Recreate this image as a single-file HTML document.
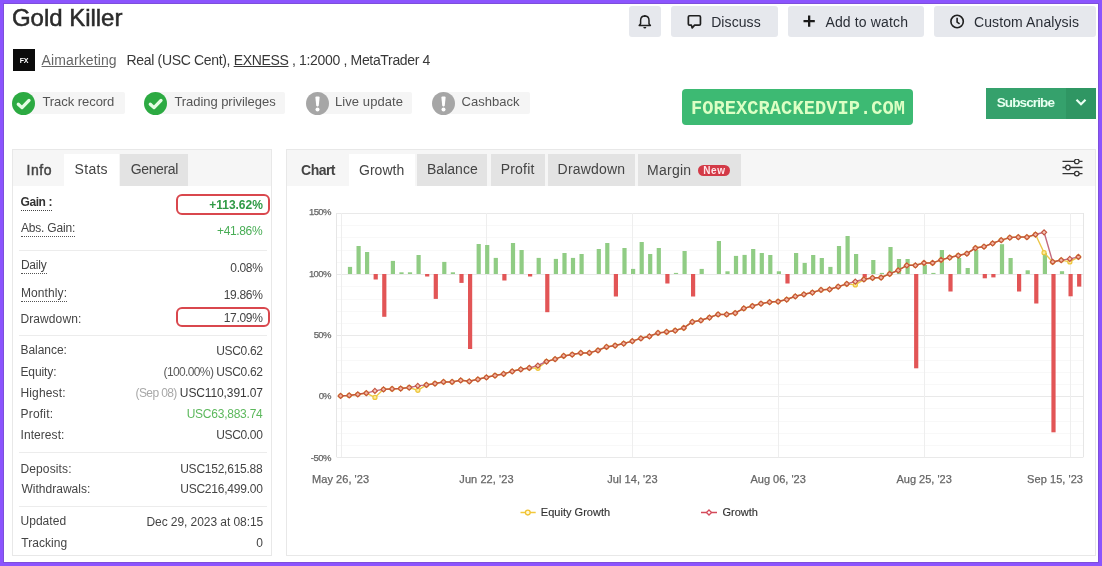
<!DOCTYPE html>
<html><head><meta charset="utf-8">
<style>
*{box-sizing:border-box;margin:0;padding:0}
html,body{width:1102px;height:566px;overflow:hidden;background:#8b54fe}
body{position:relative;font-family:"Liberation Sans",Arial,sans-serif;color:#333}
.frame{position:absolute;left:4px;top:4px;width:1094px;height:558px;background:#fff;box-shadow:0 0 0 1px #7d4fdb}
.tx{position:absolute;white-space:nowrap;font-family:"Liberation Sans",Arial,sans-serif}
.tx u{text-underline-offset:1px}
.b{position:absolute}
.btn{position:absolute;top:6px;height:31px;background:#e6e8ed;border-radius:3px}
.btn svg{position:absolute}
.badge{position:absolute;top:92px;height:22px;background:#f5f5f5;border-radius:2px}
.ic{position:absolute;top:91.5px;width:23px;height:23px;border-radius:50%}
.ic.ok{background:#2caa42}
.ic.wa{background:#a6a6a6}
.panel{position:absolute;border:1px solid #e8e8e8;background:#fff}
.tabs{position:absolute;left:0;top:0;right:0;height:36px;background:#f6f6f6}
.tab{position:absolute;top:4px;height:32px}
.tab.on{background:#fff}
.tab.g{background:#e3e3e3}
.sep{position:absolute;height:1px;background:#ececec}
.redbox{position:absolute;border:2px solid #d9474d;border-radius:6px}
</style></head><body>
<div class="frame"></div>

<div class="btn" style="left:629px;width:32px">
<svg style="left:0;top:0" width="32" height="31" viewBox="0 0 32 31"><path d="M15.8 10.1C12.9 10.1 11.6 12.2 11.6 14.6V17.7L10.2 19.4H21.4L20 17.7V14.6C20 12.2 18.7 10.1 15.8 10.1Z" fill="none" stroke="#1f1f1f" stroke-width="1.5" stroke-linejoin="round"/><circle cx="15.8" cy="9.9" r="1" fill="#1f1f1f"/><path d="M14.3 21.1a1.5 1.5 0 0 0 3 0z" fill="#1f1f1f"/></svg>
</div>
<div class="btn" style="left:671px;width:107px">
<svg style="left:0;top:0" width="40" height="31" viewBox="0 0 40 31"><path d="M18.6 9.75H28.2Q29.45 9.75 29.45 11V17.9Q29.45 19.15 28.2 19.15H23.6L21.2 21.9L20.4 19.15H18.6Q17.35 19.15 17.35 17.9V11Q17.35 9.75 18.6 9.75Z" fill="none" stroke="#1f1f1f" stroke-width="1.7" stroke-linejoin="round"/></svg>
</div>
<div class="btn" style="left:788px;width:136px">
<svg style="left:0;top:0" width="40" height="31" viewBox="0 0 40 31"><path d="M21.15 9.6V20.8M15.5 15.2H26.8" stroke="#1a1a1a" stroke-width="2.3"/></svg>
</div>
<div class="btn" style="left:934px;width:162px">
<svg style="left:0;top:0" width="40" height="31" viewBox="0 0 40 31"><circle cx="23.1" cy="15.5" r="6.2" fill="none" stroke="#1f1f1f" stroke-width="1.6"/><path d="M23.1 11.8V16.1l2.5 1.7" fill="none" stroke="#1f1f1f" stroke-width="1.6"/></svg>
</div>

<div class="b" style="left:13px;top:49px;width:22px;height:22px;background:#0b0b0b;color:#fff;font-size:7px;font-weight:bold;text-align:center;line-height:24px;letter-spacing:-0.3px">FX</div>

<div class="badge" style="left:24px;width:101px"></div>
<div class="ic ok" style="left:12px"><svg width="23" height="23" viewBox="0 0 23 23"><path d="M6.3 12.2L10 15.6L17 8.4" fill="none" stroke="#e4fde4" stroke-width="3.3" stroke-linecap="round" stroke-linejoin="round"/></svg></div>
<div class="badge" style="left:156px;width:129px"></div>
<div class="ic ok" style="left:144px"><svg width="23" height="23" viewBox="0 0 23 23"><path d="M6.3 12.2L10 15.6L17 8.4" fill="none" stroke="#e4fde4" stroke-width="3.3" stroke-linecap="round" stroke-linejoin="round"/></svg></div>
<div class="badge" style="left:318px;width:94px"></div>
<div class="ic wa" style="left:306px"><svg width="23" height="23" viewBox="0 0 23 23"><path d="M9.4 5.6Q9.4 4.6 10.4 4.6H12.6Q13.6 4.6 13.6 5.6L12.8 13.6Q12.7 14.4 11.9 14.4H11.1Q10.3 14.4 10.2 13.6Z" fill="#fff"/><circle cx="11.5" cy="17.4" r="2" fill="#fff"/></svg></div>
<div class="badge" style="left:444px;width:86px"></div>
<div class="ic wa" style="left:432px"><svg width="23" height="23" viewBox="0 0 23 23"><path d="M9.4 5.6Q9.4 4.6 10.4 4.6H12.6Q13.6 4.6 13.6 5.6L12.8 13.6Q12.7 14.4 11.9 14.4H11.1Q10.3 14.4 10.2 13.6Z" fill="#fff"/><circle cx="11.5" cy="17.4" r="2" fill="#fff"/></svg></div>

<div class="b" style="left:682px;top:89.4px;width:231px;height:35.4px;background:#3dba73;border-radius:4px"></div>
<div class="b" style="left:986px;top:87.8px;width:110px;height:30.8px;background:#35a16c"></div>
<div class="b" style="left:1066px;top:87.8px;width:30px;height:30.8px;background:#2f9663"><svg style="position:absolute;left:8.7px;top:10.6px" width="12" height="9" viewBox="0 0 12 9"><path d="M1.5 1.8l4.5 4.4l4.5-4.4" fill="none" stroke="#eafff2" stroke-width="2.2"/></svg></div>

<!-- left panel -->
<div class="panel" style="left:12px;top:149px;width:260px;height:407px">
 <div class="tabs">
  <div class="tab on" style="left:51px;width:55px"></div>
  <div class="tab g" style="left:107px;width:68px"></div>
 </div>
 <div class="sep" style="left:6px;width:248px;top:99.5px"></div>
 <div class="sep" style="left:6px;width:248px;top:184.8px"></div>
 <div class="sep" style="left:6px;width:248px;top:302.3px"></div>
 <div class="sep" style="left:6px;width:248px;top:355.7px"></div>
</div>
<div class="redbox" style="left:176.2px;top:194px;width:94px;height:20.5px"></div>
<div class="redbox" style="left:176.2px;top:306.8px;width:94px;height:20.4px"></div>

<!-- chart panel -->
<div class="panel" style="left:286px;top:149px;width:810px;height:407px">
 <div class="tabs">
  <div class="tab on" style="left:62px;width:66px"></div>
  <div class="tab g" style="left:130px;width:70px"></div>
  <div class="tab g" style="left:204px;width:54px"></div>
  <div class="tab g" style="left:261px;width:87px"></div>
  <div class="tab g" style="left:351px;width:103px"></div>
  <svg style="position:absolute;left:775px;top:9px" width="22" height="18" viewBox="0 0 22 18"><g stroke="#333" stroke-width="1.3" fill="#fff"><path d="M0.5 2.4h20M0.5 8.5h20M0.5 14.6h20"/><circle cx="14.8" cy="2.4" r="2.3"/><circle cx="5.9" cy="8.5" r="2.3"/><circle cx="14.8" cy="14.6" r="2.3"/></g></svg>
 </div>
</div>
<div class="b" style="left:697.7px;top:164.8px;width:32.5px;height:11.1px;border-radius:6px;background:#d33a47"></div>

<svg class="chart" width="1102" height="566" viewBox="0 0 1102 566" style="position:absolute;left:0;top:0">
<line x1="337" y1="213.5" x2="1083" y2="213.5" stroke="#e9e9e9" stroke-width="1"/>
<line x1="337" y1="225.5" x2="1083" y2="225.5" stroke="#f8f8f8" stroke-width="1"/>
<line x1="337" y1="237.5" x2="1083" y2="237.5" stroke="#f8f8f8" stroke-width="1"/>
<line x1="337" y1="250.5" x2="1083" y2="250.5" stroke="#f8f8f8" stroke-width="1"/>
<line x1="337" y1="262.5" x2="1083" y2="262.5" stroke="#f8f8f8" stroke-width="1"/>
<line x1="337" y1="274.5" x2="1083" y2="274.5" stroke="#e9e9e9" stroke-width="1"/>
<line x1="337" y1="286.5" x2="1083" y2="286.5" stroke="#f8f8f8" stroke-width="1"/>
<line x1="337" y1="299.5" x2="1083" y2="299.5" stroke="#f8f8f8" stroke-width="1"/>
<line x1="337" y1="311.5" x2="1083" y2="311.5" stroke="#f8f8f8" stroke-width="1"/>
<line x1="337" y1="323.5" x2="1083" y2="323.5" stroke="#f8f8f8" stroke-width="1"/>
<line x1="337" y1="335.5" x2="1083" y2="335.5" stroke="#e9e9e9" stroke-width="1"/>
<line x1="337" y1="347.5" x2="1083" y2="347.5" stroke="#f8f8f8" stroke-width="1"/>
<line x1="337" y1="360.5" x2="1083" y2="360.5" stroke="#f8f8f8" stroke-width="1"/>
<line x1="337" y1="372.5" x2="1083" y2="372.5" stroke="#f8f8f8" stroke-width="1"/>
<line x1="337" y1="384.5" x2="1083" y2="384.5" stroke="#f8f8f8" stroke-width="1"/>
<line x1="337" y1="396.5" x2="1083" y2="396.5" stroke="#e9e9e9" stroke-width="1"/>
<line x1="337" y1="408.5" x2="1083" y2="408.5" stroke="#f8f8f8" stroke-width="1"/>
<line x1="337" y1="421.5" x2="1083" y2="421.5" stroke="#f8f8f8" stroke-width="1"/>
<line x1="337" y1="433.5" x2="1083" y2="433.5" stroke="#f8f8f8" stroke-width="1"/>
<line x1="337" y1="445.5" x2="1083" y2="445.5" stroke="#f8f8f8" stroke-width="1"/>
<line x1="337" y1="457.5" x2="1083" y2="457.5" stroke="#e9e9e9" stroke-width="1"/>
<line x1="341.5" y1="213" x2="341.5" y2="457.3" stroke="#eeeeee" stroke-width="1"/>
<line x1="486.5" y1="213" x2="486.5" y2="457.3" stroke="#eeeeee" stroke-width="1"/>
<line x1="632.5" y1="213" x2="632.5" y2="457.3" stroke="#eeeeee" stroke-width="1"/>
<line x1="778.5" y1="213" x2="778.5" y2="457.3" stroke="#eeeeee" stroke-width="1"/>
<line x1="924.5" y1="213" x2="924.5" y2="457.3" stroke="#eeeeee" stroke-width="1"/>
<line x1="1070.5" y1="213" x2="1070.5" y2="457.3" stroke="#eeeeee" stroke-width="1"/>
<line x1="336.5" y1="213" x2="336.5" y2="457.3" stroke="#e6e6e6" stroke-width="1"/>
<line x1="1083.5" y1="213" x2="1083.5" y2="457.3" stroke="#e6e6e6" stroke-width="1"/>
<rect x="347.9" y="266.9" width="4.2" height="7.1" fill="#90cc84"/>
<rect x="356.5" y="246" width="4.2" height="28" fill="#90cc84"/>
<rect x="365" y="252" width="4.2" height="22" fill="#90cc84"/>
<rect x="373.6" y="274" width="4.2" height="5.5" fill="#e25556"/>
<rect x="382.2" y="274" width="4.2" height="42.8" fill="#e25556"/>
<rect x="390.8" y="260.9" width="4.2" height="13.1" fill="#90cc84"/>
<rect x="399.4" y="272.3" width="4.2" height="1.7" fill="#90cc84"/>
<rect x="407.9" y="272.3" width="4.2" height="1.7" fill="#90cc84"/>
<rect x="416.5" y="255" width="4.2" height="19" fill="#90cc84"/>
<rect x="425.1" y="274" width="4.2" height="2.5" fill="#e25556"/>
<rect x="433.7" y="274" width="4.2" height="24.9" fill="#e25556"/>
<rect x="442.2" y="261.9" width="4.2" height="12.1" fill="#90cc84"/>
<rect x="450.8" y="272.3" width="4.2" height="1.7" fill="#90cc84"/>
<rect x="459.4" y="274" width="4.2" height="8.9" fill="#e25556"/>
<rect x="468" y="274" width="4.2" height="75" fill="#e25556"/>
<rect x="476.6" y="244" width="4.2" height="30" fill="#90cc84"/>
<rect x="485.1" y="245" width="4.2" height="29" fill="#90cc84"/>
<rect x="493.7" y="257.9" width="4.2" height="16.1" fill="#90cc84"/>
<rect x="502.3" y="274" width="4.2" height="6.5" fill="#e25556"/>
<rect x="510.9" y="243" width="4.2" height="31" fill="#90cc84"/>
<rect x="519.5" y="250" width="4.2" height="24" fill="#90cc84"/>
<rect x="528" y="274" width="4.2" height="2.5" fill="#e25556"/>
<rect x="536.6" y="257.9" width="4.2" height="16.1" fill="#90cc84"/>
<rect x="545.2" y="274" width="4.2" height="38.2" fill="#e25556"/>
<rect x="553.8" y="258.9" width="4.2" height="15.1" fill="#90cc84"/>
<rect x="562.4" y="253" width="4.2" height="21" fill="#90cc84"/>
<rect x="570.9" y="257.9" width="4.2" height="16.1" fill="#90cc84"/>
<rect x="579.5" y="254" width="4.2" height="20" fill="#90cc84"/>
<rect x="596.7" y="249" width="4.2" height="25" fill="#90cc84"/>
<rect x="605.2" y="243" width="4.2" height="31" fill="#90cc84"/>
<rect x="613.8" y="274" width="4.2" height="22.5" fill="#e25556"/>
<rect x="622.4" y="248" width="4.2" height="26" fill="#90cc84"/>
<rect x="631" y="268.9" width="4.2" height="5.1" fill="#90cc84"/>
<rect x="639.6" y="242" width="4.2" height="32" fill="#90cc84"/>
<rect x="648.1" y="254" width="4.2" height="20" fill="#90cc84"/>
<rect x="656.7" y="248" width="4.2" height="26" fill="#90cc84"/>
<rect x="665.3" y="274" width="4.2" height="9.5" fill="#e25556"/>
<rect x="673.9" y="272.9" width="4.2" height="1.1" fill="#90cc84"/>
<rect x="682.5" y="251" width="4.2" height="23" fill="#90cc84"/>
<rect x="691" y="274" width="4.2" height="22.5" fill="#e25556"/>
<rect x="699.6" y="268.9" width="4.2" height="5.1" fill="#90cc84"/>
<rect x="716.8" y="241" width="4.2" height="33" fill="#90cc84"/>
<rect x="725.4" y="271.3" width="4.2" height="2.7" fill="#90cc84"/>
<rect x="733.9" y="255.9" width="4.2" height="18.1" fill="#90cc84"/>
<rect x="742.5" y="254.9" width="4.2" height="19.1" fill="#90cc84"/>
<rect x="751.1" y="249" width="4.2" height="25" fill="#90cc84"/>
<rect x="759.7" y="253" width="4.2" height="21" fill="#90cc84"/>
<rect x="768.2" y="255" width="4.2" height="19" fill="#90cc84"/>
<rect x="776.8" y="271.3" width="4.2" height="2.7" fill="#90cc84"/>
<rect x="785.4" y="274" width="4.2" height="9.5" fill="#e25556"/>
<rect x="794" y="253" width="4.2" height="21" fill="#90cc84"/>
<rect x="802.6" y="262.9" width="4.2" height="11.1" fill="#90cc84"/>
<rect x="811.1" y="255" width="4.2" height="19" fill="#90cc84"/>
<rect x="819.7" y="258" width="4.2" height="16" fill="#90cc84"/>
<rect x="828.3" y="266.9" width="4.2" height="7.1" fill="#90cc84"/>
<rect x="836.9" y="246" width="4.2" height="28" fill="#90cc84"/>
<rect x="845.5" y="236" width="4.2" height="38" fill="#90cc84"/>
<rect x="854" y="254" width="4.2" height="20" fill="#90cc84"/>
<rect x="862.6" y="274" width="4.2" height="3.9" fill="#e25556"/>
<rect x="871.2" y="260" width="4.2" height="14" fill="#90cc84"/>
<rect x="879.8" y="272.9" width="4.2" height="1.1" fill="#90cc84"/>
<rect x="888.4" y="247" width="4.2" height="27" fill="#90cc84"/>
<rect x="896.9" y="259" width="4.2" height="15" fill="#90cc84"/>
<rect x="905.5" y="259" width="4.2" height="15" fill="#90cc84"/>
<rect x="914.1" y="274" width="4.2" height="94.3" fill="#e25556"/>
<rect x="922.7" y="265" width="4.2" height="9" fill="#90cc84"/>
<rect x="931.3" y="272.9" width="4.2" height="1.1" fill="#90cc84"/>
<rect x="939.8" y="250" width="4.2" height="24" fill="#90cc84"/>
<rect x="948.4" y="274" width="4.2" height="17.5" fill="#e25556"/>
<rect x="957" y="258" width="4.2" height="16" fill="#90cc84"/>
<rect x="965.6" y="268" width="4.2" height="6" fill="#90cc84"/>
<rect x="974.1" y="250" width="4.2" height="24" fill="#90cc84"/>
<rect x="982.7" y="274" width="4.2" height="4.3" fill="#e25556"/>
<rect x="991.3" y="274" width="4.2" height="3.4" fill="#e25556"/>
<rect x="999.9" y="244.2" width="4.2" height="29.8" fill="#90cc84"/>
<rect x="1008.5" y="258" width="4.2" height="16" fill="#90cc84"/>
<rect x="1017" y="274" width="4.2" height="17.5" fill="#e25556"/>
<rect x="1025.6" y="270.3" width="4.2" height="3.7" fill="#90cc84"/>
<rect x="1034.2" y="274" width="4.2" height="29.5" fill="#e25556"/>
<rect x="1042.8" y="253" width="4.2" height="21" fill="#90cc84"/>
<rect x="1051.4" y="274" width="4.2" height="158.3" fill="#e25556"/>
<rect x="1059.9" y="271.2" width="4.2" height="2.8" fill="#90cc84"/>
<rect x="1068.5" y="274" width="4.2" height="22.3" fill="#e25556"/>
<rect x="1077.1" y="274" width="4.2" height="12.6" fill="#e25556"/>
<polyline points="340.6,395.8 349.2,395.4 357.8,394.3 366.3,393.1 374.9,397.4 383.5,389.3 392.1,388.9 400.7,388.5 409.2,387.5 417.8,390.3 426.4,384.9 435,383.5 443.5,381.9 452.1,381.9 460.7,380.3 469.3,381.3 477.9,379.3 486.4,377.3 495,375.5 503.6,373.9 512.2,371.3 520.8,369.3 529.3,367.9 537.9,368.3 546.5,361.5 555.1,359.1 563.7,355.9 572.2,354.5 580.8,352.9 589.4,352.9 598,350.3 606.5,346.9 615.1,345.5 623.7,343.5 632.3,341.1 640.9,338.3 649.4,336.3 658,332.9 666.6,331.9 675.2,330.5 683.8,327.9 692.3,321.9 700.9,320.3 709.5,317.5 718.1,314.4 726.7,314.4 735.2,313 743.8,308.4 752.4,306 761,303.6 769.6,302.1 778.1,301.5 786.7,299.5 795.3,296.3 803.9,294.3 812.4,292.5 821,289.9 829.6,289.3 838.2,286.7 846.8,283.9 855.3,284.9 863.9,279.3 872.5,277.9 881.1,277.5 889.7,273.9 898.2,270.3 906.8,265.3 915.4,265.3 924,262.9 932.6,262.9 941.1,259.9 949.7,257.5 958.3,255.5 966.9,253.6 975.4,248 984,246.6 992.6,243.3 1001.2,240.1 1009.8,237.6 1018.3,237.1 1026.9,237.1 1035.5,234.5 1044.1,252.7 1052.7,261.9 1061.2,260.1 1069.8,261.9 1078.4,256.9" fill="none" stroke="#ecc74a" stroke-width="1.4" stroke-linejoin="round"/>
<path d="M338.6 395.8a2 2 0 1 0 4.1 0a2 2 0 1 0 -4.1 0zM347.1 395.4a2 2 0 1 0 4.1 0a2 2 0 1 0 -4.1 0zM355.7 394.3a2 2 0 1 0 4.1 0a2 2 0 1 0 -4.1 0zM364.3 393.1a2 2 0 1 0 4.1 0a2 2 0 1 0 -4.1 0zM372.9 397.4a2 2 0 1 0 4.1 0a2 2 0 1 0 -4.1 0zM381.4 389.3a2 2 0 1 0 4.1 0a2 2 0 1 0 -4.1 0zM390 388.9a2 2 0 1 0 4.1 0a2 2 0 1 0 -4.1 0zM398.6 388.5a2 2 0 1 0 4.1 0a2 2 0 1 0 -4.1 0zM407.2 387.5a2 2 0 1 0 4.1 0a2 2 0 1 0 -4.1 0zM415.8 390.3a2 2 0 1 0 4.1 0a2 2 0 1 0 -4.1 0zM424.3 384.9a2 2 0 1 0 4.1 0a2 2 0 1 0 -4.1 0zM432.9 383.5a2 2 0 1 0 4.1 0a2 2 0 1 0 -4.1 0zM441.5 381.9a2 2 0 1 0 4.1 0a2 2 0 1 0 -4.1 0zM450.1 381.9a2 2 0 1 0 4.1 0a2 2 0 1 0 -4.1 0zM458.7 380.3a2 2 0 1 0 4.1 0a2 2 0 1 0 -4.1 0zM467.2 381.3a2 2 0 1 0 4.1 0a2 2 0 1 0 -4.1 0zM475.8 379.3a2 2 0 1 0 4.1 0a2 2 0 1 0 -4.1 0zM484.4 377.3a2 2 0 1 0 4.1 0a2 2 0 1 0 -4.1 0zM493 375.5a2 2 0 1 0 4.1 0a2 2 0 1 0 -4.1 0zM501.6 373.9a2 2 0 1 0 4.1 0a2 2 0 1 0 -4.1 0zM510.1 371.3a2 2 0 1 0 4.1 0a2 2 0 1 0 -4.1 0zM518.7 369.3a2 2 0 1 0 4.1 0a2 2 0 1 0 -4.1 0zM527.3 367.9a2 2 0 1 0 4.1 0a2 2 0 1 0 -4.1 0zM535.9 368.3a2 2 0 1 0 4.1 0a2 2 0 1 0 -4.1 0zM544.4 361.5a2 2 0 1 0 4.1 0a2 2 0 1 0 -4.1 0zM553 359.1a2 2 0 1 0 4.1 0a2 2 0 1 0 -4.1 0zM561.6 355.9a2 2 0 1 0 4.1 0a2 2 0 1 0 -4.1 0zM570.2 354.5a2 2 0 1 0 4.1 0a2 2 0 1 0 -4.1 0zM578.8 352.9a2 2 0 1 0 4.1 0a2 2 0 1 0 -4.1 0zM587.3 352.9a2 2 0 1 0 4.1 0a2 2 0 1 0 -4.1 0zM595.9 350.3a2 2 0 1 0 4.1 0a2 2 0 1 0 -4.1 0zM604.5 346.9a2 2 0 1 0 4.1 0a2 2 0 1 0 -4.1 0zM613.1 345.5a2 2 0 1 0 4.1 0a2 2 0 1 0 -4.1 0zM621.7 343.5a2 2 0 1 0 4.1 0a2 2 0 1 0 -4.1 0zM630.2 341.1a2 2 0 1 0 4.1 0a2 2 0 1 0 -4.1 0zM638.8 338.3a2 2 0 1 0 4.1 0a2 2 0 1 0 -4.1 0zM647.4 336.3a2 2 0 1 0 4.1 0a2 2 0 1 0 -4.1 0zM656 332.9a2 2 0 1 0 4.1 0a2 2 0 1 0 -4.1 0zM664.6 331.9a2 2 0 1 0 4.1 0a2 2 0 1 0 -4.1 0zM673.1 330.5a2 2 0 1 0 4.1 0a2 2 0 1 0 -4.1 0zM681.7 327.9a2 2 0 1 0 4.1 0a2 2 0 1 0 -4.1 0zM690.3 321.9a2 2 0 1 0 4.1 0a2 2 0 1 0 -4.1 0zM698.9 320.3a2 2 0 1 0 4.1 0a2 2 0 1 0 -4.1 0zM707.4 317.5a2 2 0 1 0 4.1 0a2 2 0 1 0 -4.1 0zM716 314.4a2 2 0 1 0 4.1 0a2 2 0 1 0 -4.1 0zM724.6 314.4a2 2 0 1 0 4.1 0a2 2 0 1 0 -4.1 0zM733.2 313a2 2 0 1 0 4.1 0a2 2 0 1 0 -4.1 0zM741.8 308.4a2 2 0 1 0 4.1 0a2 2 0 1 0 -4.1 0zM750.3 306a2 2 0 1 0 4.1 0a2 2 0 1 0 -4.1 0zM758.9 303.6a2 2 0 1 0 4.1 0a2 2 0 1 0 -4.1 0zM767.5 302.1a2 2 0 1 0 4.1 0a2 2 0 1 0 -4.1 0zM776.1 301.5a2 2 0 1 0 4.1 0a2 2 0 1 0 -4.1 0zM784.7 299.5a2 2 0 1 0 4.1 0a2 2 0 1 0 -4.1 0zM793.2 296.3a2 2 0 1 0 4.1 0a2 2 0 1 0 -4.1 0zM801.8 294.3a2 2 0 1 0 4.1 0a2 2 0 1 0 -4.1 0zM810.4 292.5a2 2 0 1 0 4.1 0a2 2 0 1 0 -4.1 0zM819 289.9a2 2 0 1 0 4.1 0a2 2 0 1 0 -4.1 0zM827.6 289.3a2 2 0 1 0 4.1 0a2 2 0 1 0 -4.1 0zM836.1 286.7a2 2 0 1 0 4.1 0a2 2 0 1 0 -4.1 0zM844.7 283.9a2 2 0 1 0 4.1 0a2 2 0 1 0 -4.1 0zM853.3 284.9a2 2 0 1 0 4.1 0a2 2 0 1 0 -4.1 0zM861.9 279.3a2 2 0 1 0 4.1 0a2 2 0 1 0 -4.1 0zM870.4 277.9a2 2 0 1 0 4.1 0a2 2 0 1 0 -4.1 0zM879 277.5a2 2 0 1 0 4.1 0a2 2 0 1 0 -4.1 0zM887.6 273.9a2 2 0 1 0 4.1 0a2 2 0 1 0 -4.1 0zM896.2 270.3a2 2 0 1 0 4.1 0a2 2 0 1 0 -4.1 0zM904.8 265.3a2 2 0 1 0 4.1 0a2 2 0 1 0 -4.1 0zM913.3 265.3a2 2 0 1 0 4.1 0a2 2 0 1 0 -4.1 0zM921.9 262.9a2 2 0 1 0 4.1 0a2 2 0 1 0 -4.1 0zM930.5 262.9a2 2 0 1 0 4.1 0a2 2 0 1 0 -4.1 0zM939.1 259.9a2 2 0 1 0 4.1 0a2 2 0 1 0 -4.1 0zM947.7 257.5a2 2 0 1 0 4.1 0a2 2 0 1 0 -4.1 0zM956.2 255.5a2 2 0 1 0 4.1 0a2 2 0 1 0 -4.1 0zM964.8 253.6a2 2 0 1 0 4.1 0a2 2 0 1 0 -4.1 0zM973.4 248a2 2 0 1 0 4.1 0a2 2 0 1 0 -4.1 0zM982 246.6a2 2 0 1 0 4.1 0a2 2 0 1 0 -4.1 0zM990.6 243.3a2 2 0 1 0 4.1 0a2 2 0 1 0 -4.1 0zM999.1 240.1a2 2 0 1 0 4.1 0a2 2 0 1 0 -4.1 0zM1007.7 237.6a2 2 0 1 0 4.1 0a2 2 0 1 0 -4.1 0zM1016.3 237.1a2 2 0 1 0 4.1 0a2 2 0 1 0 -4.1 0zM1024.9 237.1a2 2 0 1 0 4.1 0a2 2 0 1 0 -4.1 0zM1033.4 234.5a2 2 0 1 0 4.1 0a2 2 0 1 0 -4.1 0zM1042 252.7a2 2 0 1 0 4.1 0a2 2 0 1 0 -4.1 0zM1050.6 261.9a2 2 0 1 0 4.1 0a2 2 0 1 0 -4.1 0zM1059.2 260.1a2 2 0 1 0 4.1 0a2 2 0 1 0 -4.1 0zM1067.8 261.9a2 2 0 1 0 4.1 0a2 2 0 1 0 -4.1 0zM1076.3 256.9a2 2 0 1 0 4.1 0a2 2 0 1 0 -4.1 0z" fill="#fbeb9a" stroke="#edc53c" stroke-width="1.2"/>
<path d="M340.6 395.8L349.2 395.4M349.2 395.4L357.8 394.3M357.8 394.3L366.3 393.1M383.5 389.3L392.1 388.9M392.1 388.9L400.7 388.5M400.7 388.5L409.2 387.5M426.4 384.9L435 383.5M435 383.5L443.5 381.9M443.5 381.9L452.1 381.9M452.1 381.9L460.7 380.3M460.7 380.3L469.3 381.3M469.3 381.3L477.9 379.3M477.9 379.3L486.4 377.3M486.4 377.3L495 375.5M495 375.5L503.6 373.9M503.6 373.9L512.2 371.3M512.2 371.3L520.8 369.3M520.8 369.3L529.3 367.9M546.5 361.5L555.1 359.1M555.1 359.1L563.7 355.9M563.7 355.9L572.2 354.5M572.2 354.5L580.8 352.9M580.8 352.9L589.4 352.9M589.4 352.9L598 350.3M598 350.3L606.5 346.9M606.5 346.9L615.1 345.5M615.1 345.5L623.7 343.5M623.7 343.5L632.3 341.1M632.3 341.1L640.9 338.3M640.9 338.3L649.4 336.3M649.4 336.3L658 332.9M658 332.9L666.6 331.9M666.6 331.9L675.2 330.5M675.2 330.5L683.8 327.9M683.8 327.9L692.3 321.9M692.3 321.9L700.9 320.3M700.9 320.3L709.5 317.5M709.5 317.5L718.1 314.4M718.1 314.4L726.7 314.4M726.7 314.4L735.2 313M735.2 313L743.8 308.4M743.8 308.4L752.4 306M752.4 306L761 303.6M761 303.6L769.6 302.1M769.6 302.1L778.1 301.5M778.1 301.5L786.7 299.5M786.7 299.5L795.3 296.3M795.3 296.3L803.9 294.3M803.9 294.3L812.4 292.5M812.4 292.5L821 289.9M821 289.9L829.6 289.3M829.6 289.3L838.2 286.7M838.2 286.7L846.8 283.9M863.9 279.3L872.5 277.9M872.5 277.9L881.1 277.5M881.1 277.5L889.7 273.9M889.7 273.9L898.2 270.3M898.2 270.3L906.8 265.3M906.8 265.3L915.4 265.3M915.4 265.3L924 262.9M924 262.9L932.6 262.9M932.6 262.9L941.1 259.9M941.1 259.9L949.7 257.5M949.7 257.5L958.3 255.5M958.3 255.5L966.9 253.6M966.9 253.6L975.4 248M975.4 248L984 246.6M984 246.6L992.6 243.3M992.6 243.3L1001.2 240.1M1001.2 240.1L1009.8 237.6M1009.8 237.6L1018.3 237.1M1018.3 237.1L1026.9 237.1M1026.9 237.1L1035.5 234.5M1052.7 261.9L1061.2 260.1" fill="none" stroke="#c0563c" stroke-width="1.5" stroke-linecap="round"/>
<path d="M366.3 393.1L374.9 390.9M374.9 390.9L383.5 389.3M409.2 387.5L417.8 385.9M417.8 385.9L426.4 384.9M529.3 367.9L537.9 365.5M537.9 365.5L546.5 361.5M846.8 283.9L855.3 281.5M855.3 281.5L863.9 279.3M1035.5 234.5L1044.1 232.2M1044.1 232.2L1052.7 261.9M1061.2 260.1L1069.8 258.9M1069.8 258.9L1078.4 256.9" fill="none" stroke="#c26a80" stroke-width="1.4" stroke-linecap="round"/>
<path d="M340.6 393.4l2.5 2.5l-2.5 2.5l-2.5 -2.5zM349.2 392.9l2.5 2.5l-2.5 2.5l-2.5 -2.5zM357.8 391.9l2.5 2.5l-2.5 2.5l-2.5 -2.5zM366.3 390.7l2.5 2.5l-2.5 2.5l-2.5 -2.5zM383.5 386.9l2.5 2.5l-2.5 2.5l-2.5 -2.5zM392.1 386.4l2.5 2.5l-2.5 2.5l-2.5 -2.5zM400.7 386.1l2.5 2.5l-2.5 2.5l-2.5 -2.5zM409.2 385.1l2.5 2.5l-2.5 2.5l-2.5 -2.5zM426.4 382.4l2.5 2.5l-2.5 2.5l-2.5 -2.5zM435 381.1l2.5 2.5l-2.5 2.5l-2.5 -2.5zM443.5 379.4l2.5 2.5l-2.5 2.5l-2.5 -2.5zM452.1 379.4l2.5 2.5l-2.5 2.5l-2.5 -2.5zM460.7 377.9l2.5 2.5l-2.5 2.5l-2.5 -2.5zM469.3 378.9l2.5 2.5l-2.5 2.5l-2.5 -2.5zM477.9 376.9l2.5 2.5l-2.5 2.5l-2.5 -2.5zM486.4 374.9l2.5 2.5l-2.5 2.5l-2.5 -2.5zM495 373.1l2.5 2.5l-2.5 2.5l-2.5 -2.5zM503.6 371.4l2.5 2.5l-2.5 2.5l-2.5 -2.5zM512.2 368.9l2.5 2.5l-2.5 2.5l-2.5 -2.5zM520.8 366.9l2.5 2.5l-2.5 2.5l-2.5 -2.5zM529.3 365.4l2.5 2.5l-2.5 2.5l-2.5 -2.5zM546.5 359.1l2.5 2.5l-2.5 2.5l-2.5 -2.5zM555.1 356.7l2.5 2.5l-2.5 2.5l-2.5 -2.5zM563.7 353.4l2.5 2.5l-2.5 2.5l-2.5 -2.5zM572.2 352.1l2.5 2.5l-2.5 2.5l-2.5 -2.5zM580.8 350.4l2.5 2.5l-2.5 2.5l-2.5 -2.5zM589.4 350.4l2.5 2.5l-2.5 2.5l-2.5 -2.5zM598 347.9l2.5 2.5l-2.5 2.5l-2.5 -2.5zM606.5 344.4l2.5 2.5l-2.5 2.5l-2.5 -2.5zM615.1 343.1l2.5 2.5l-2.5 2.5l-2.5 -2.5zM623.7 341.1l2.5 2.5l-2.5 2.5l-2.5 -2.5zM632.3 338.7l2.5 2.5l-2.5 2.5l-2.5 -2.5zM640.9 335.9l2.5 2.5l-2.5 2.5l-2.5 -2.5zM649.4 333.9l2.5 2.5l-2.5 2.5l-2.5 -2.5zM658 330.4l2.5 2.5l-2.5 2.5l-2.5 -2.5zM666.6 329.4l2.5 2.5l-2.5 2.5l-2.5 -2.5zM675.2 328.1l2.5 2.5l-2.5 2.5l-2.5 -2.5zM683.8 325.4l2.5 2.5l-2.5 2.5l-2.5 -2.5zM692.3 319.4l2.5 2.5l-2.5 2.5l-2.5 -2.5zM700.9 317.9l2.5 2.5l-2.5 2.5l-2.5 -2.5zM709.5 315.1l2.5 2.5l-2.5 2.5l-2.5 -2.5zM718.1 311.9l2.5 2.5l-2.5 2.5l-2.5 -2.5zM726.7 311.9l2.5 2.5l-2.5 2.5l-2.5 -2.5zM735.2 310.6l2.5 2.5l-2.5 2.5l-2.5 -2.5zM743.8 305.9l2.5 2.5l-2.5 2.5l-2.5 -2.5zM752.4 303.6l2.5 2.5l-2.5 2.5l-2.5 -2.5zM761 301.2l2.5 2.5l-2.5 2.5l-2.5 -2.5zM769.6 299.7l2.5 2.5l-2.5 2.5l-2.5 -2.5zM778.1 299.1l2.5 2.5l-2.5 2.5l-2.5 -2.5zM786.7 297.1l2.5 2.5l-2.5 2.5l-2.5 -2.5zM795.3 293.9l2.5 2.5l-2.5 2.5l-2.5 -2.5zM803.9 291.9l2.5 2.5l-2.5 2.5l-2.5 -2.5zM812.4 290.1l2.5 2.5l-2.5 2.5l-2.5 -2.5zM821 287.4l2.5 2.5l-2.5 2.5l-2.5 -2.5zM829.6 286.9l2.5 2.5l-2.5 2.5l-2.5 -2.5zM838.2 284.2l2.5 2.5l-2.5 2.5l-2.5 -2.5zM846.8 281.4l2.5 2.5l-2.5 2.5l-2.5 -2.5zM863.9 276.9l2.5 2.5l-2.5 2.5l-2.5 -2.5zM872.5 275.4l2.5 2.5l-2.5 2.5l-2.5 -2.5zM881.1 275.1l2.5 2.5l-2.5 2.5l-2.5 -2.5zM889.7 271.4l2.5 2.5l-2.5 2.5l-2.5 -2.5zM898.2 267.9l2.5 2.5l-2.5 2.5l-2.5 -2.5zM906.8 262.9l2.5 2.5l-2.5 2.5l-2.5 -2.5zM915.4 262.9l2.5 2.5l-2.5 2.5l-2.5 -2.5zM924 260.4l2.5 2.5l-2.5 2.5l-2.5 -2.5zM932.6 260.4l2.5 2.5l-2.5 2.5l-2.5 -2.5zM941.1 257.4l2.5 2.5l-2.5 2.5l-2.5 -2.5zM949.7 255.1l2.5 2.5l-2.5 2.5l-2.5 -2.5zM958.3 253.1l2.5 2.5l-2.5 2.5l-2.5 -2.5zM966.9 251.2l2.5 2.5l-2.5 2.5l-2.5 -2.5zM975.4 245.6l2.5 2.5l-2.5 2.5l-2.5 -2.5zM984 244.2l2.5 2.5l-2.5 2.5l-2.5 -2.5zM992.6 240.9l2.5 2.5l-2.5 2.5l-2.5 -2.5zM1001.2 237.7l2.5 2.5l-2.5 2.5l-2.5 -2.5zM1009.8 235.2l2.5 2.5l-2.5 2.5l-2.5 -2.5zM1018.3 234.7l2.5 2.5l-2.5 2.5l-2.5 -2.5zM1026.9 234.7l2.5 2.5l-2.5 2.5l-2.5 -2.5zM1035.5 232.1l2.5 2.5l-2.5 2.5l-2.5 -2.5zM1052.7 259.4l2.5 2.5l-2.5 2.5l-2.5 -2.5zM1061.2 257.7l2.5 2.5l-2.5 2.5l-2.5 -2.5zM1078.4 254.4l2.5 2.5l-2.5 2.5l-2.5 -2.5z" fill="#f4b8a2" stroke="#c4553a" stroke-width="1.2"/>
<path d="M374.9 388.4l2.5 2.5l-2.5 2.5l-2.5 -2.5zM417.8 383.4l2.5 2.5l-2.5 2.5l-2.5 -2.5zM537.9 363.1l2.5 2.5l-2.5 2.5l-2.5 -2.5zM855.3 279.1l2.5 2.5l-2.5 2.5l-2.5 -2.5zM1044.1 229.8l2.5 2.5l-2.5 2.5l-2.5 -2.5zM1069.8 256.4l2.5 2.5l-2.5 2.5l-2.5 -2.5z" fill="#f5c8bc" stroke="#c4553e" stroke-width="1.2"/>
<line x1="520.5" y1="512.5" x2="535.7" y2="512.5" stroke="#f3c83b" stroke-width="1.5"/>
<circle cx="527.8" cy="512.6" r="2.4" fill="#fff8d8" stroke="#f0c232" stroke-width="1.3"/>
<line x1="701" y1="512.5" x2="717" y2="512.5" stroke="#d44a5a" stroke-width="1.5"/>
<path d="M709 510l2.5 2.5l-2.5 2.5l-2.5 -2.5z" fill="#fff" stroke="#d44a5a" stroke-width="1.3"/>
</svg>
<span id="t0" class="tx" style="left:11.94px;top:6.19px;font-size:24px;line-height:24px;color:#2b2b2b;letter-spacing:-0.025px;-webkit-text-stroke:0.5px #2b2b2b">Gold Killer</span>
<span id="t1" class="tx" style="left:711.18px;top:15.31px;font-size:14px;line-height:14px;color:#2a2e36;letter-spacing:0.089px;">Discuss</span>
<span id="t2" class="tx" style="left:825.41px;top:14.65px;font-size:14px;line-height:14px;color:#2a2e36;letter-spacing:0.143px;">Add to watch</span>
<span id="t3" class="tx" style="left:974.00px;top:14.83px;font-size:14px;line-height:14px;color:#2a2e36;letter-spacing:0.101px;">Custom Analysis</span>
<span id="t4" class="tx" style="left:41.57px;top:52.79px;font-size:14px;line-height:14px;color:#666;letter-spacing:0.114px;text-decoration-color:#888"><u>Aimarketing</u></span>
<span id="t5" class="tx" style="left:126.56px;top:53.17px;font-size:14px;line-height:14px;color:#383838;letter-spacing:-0.336px;text-decoration-color:#777">Real (USC Cent), <u>EXNESS</u> , 1:2000 , MetaTrader 4</span>
<span id="t6" class="tx" style="left:42.41px;top:95.02px;font-size:13px;line-height:13px;color:#555;letter-spacing:-0.049px;">Track record</span>
<span id="t7" class="tx" style="left:174.41px;top:95.02px;font-size:13px;line-height:13px;color:#555;letter-spacing:-0.053px;">Trading privileges</span>
<span id="t8" class="tx" style="left:334.96px;top:95.02px;font-size:13px;line-height:13px;color:#555;letter-spacing:0.086px;">Live update</span>
<span id="t9" class="tx" style="left:461.50px;top:95.02px;font-size:13px;line-height:13px;color:#555;letter-spacing:0.012px;">Cashback</span>
<span id="t10" class="tx" style="left:690.73px;top:98.87px;font-size:20px;line-height:20px;color:#dcffc4;letter-spacing:0.045px;transform:scaleX(0.9350);transform-origin:0 0;font-family:'Liberation Mono',monospace;font-weight:bold">FOREXCRACKEDVIP.COM</span>
<span id="t11" class="tx" style="left:996.76px;top:96.48px;font-size:13.5px;line-height:13.5px;color:#e6fff0;letter-spacing:-0.889px;font-weight:bold">Subscribe</span>
<span id="t12" class="tx" style="left:26.41px;top:163.44px;font-size:14px;line-height:14px;color:#444;letter-spacing:0.610px;-webkit-text-stroke:0.45px #444">Info</span>
<span id="t13" class="tx" style="left:74.62px;top:162.17px;font-size:14px;line-height:14px;color:#444;letter-spacing:0.272px;">Stats</span>
<span id="t14" class="tx" style="left:130.68px;top:162.41px;font-size:14px;line-height:14px;color:#444;letter-spacing:-0.343px;">General</span>
<span id="t15" class="tx" style="left:301.11px;top:163.17px;font-size:14px;line-height:14px;color:#444;letter-spacing:-0.535px;font-weight:bold">Chart</span>
<span id="t16" class="tx" style="left:358.98px;top:163.17px;font-size:14px;line-height:14px;color:#444;letter-spacing:0.047px;">Growth</span>
<span id="t17" class="tx" style="left:426.96px;top:162.41px;font-size:14px;line-height:14px;color:#444;letter-spacing:0.037px;">Balance</span>
<span id="t18" class="tx" style="left:500.66px;top:162.41px;font-size:14px;line-height:14px;color:#444;letter-spacing:0.225px;">Profit</span>
<span id="t19" class="tx" style="left:557.58px;top:162.41px;font-size:14px;line-height:14px;color:#444;letter-spacing:0.187px;">Drawdown</span>
<span id="t20" class="tx" style="left:646.96px;top:163.17px;font-size:14px;line-height:14px;color:#444;letter-spacing:0.283px;">Margin</span>
<span id="t21" class="tx" style="left:703.14px;top:166.22px;font-size:10px;line-height:10px;color:#ffe6ea;letter-spacing:0.715px;font-weight:bold">New</span>
<span id="t22" class="tx" style="left:20.50px;top:195.53px;font-size:12px;line-height:12px;color:#333;letter-spacing:-0.408px;font-weight:bold"><span style="border-bottom:1px dotted #444;padding-bottom:1px">Gain :</span></span>
<span id="t23" class="tx" style="left:20.88px;top:222.05px;font-size:12px;line-height:12px;color:#444;letter-spacing:-0.184px;"><span style="border-bottom:1px dotted #555;padding-bottom:1px">Abs. Gain:</span></span>
<span id="t24" class="tx" style="left:20.88px;top:259.15px;font-size:12px;line-height:12px;color:#444;letter-spacing:-0.181px;"><span style="border-bottom:1px dotted #555;padding-bottom:1px">Daily</span></span>
<span id="t25" class="tx" style="left:20.88px;top:286.57px;font-size:12px;line-height:12px;color:#444;letter-spacing:0.111px;"><span style="border-bottom:1px dotted #555;padding-bottom:1px">Monthly:</span></span>
<span id="t26" class="tx" style="left:20.44px;top:312.53px;font-size:12px;line-height:12px;color:#444;letter-spacing:0.102px;">Drawdown:</span>
<span id="t27" class="tx" style="left:20.44px;top:344.15px;font-size:12px;line-height:12px;color:#444;letter-spacing:-0.042px;">Balance:</span>
<span id="t28" class="tx" style="left:20.44px;top:365.71px;font-size:12px;line-height:12px;color:#444;letter-spacing:-0.088px;">Equity:</span>
<span id="t29" class="tx" style="left:20.44px;top:386.67px;font-size:12px;line-height:12px;color:#444;letter-spacing:0.145px;">Highest:</span>
<span id="t30" class="tx" style="left:20.44px;top:407.67px;font-size:12px;line-height:12px;color:#444;letter-spacing:0.223px;">Profit:</span>
<span id="t31" class="tx" style="left:20.52px;top:429.43px;font-size:12px;line-height:12px;color:#444;letter-spacing:0.067px;">Interest:</span>
<span id="t32" class="tx" style="left:20.44px;top:462.71px;font-size:12px;line-height:12px;color:#444;letter-spacing:0.133px;">Deposits:</span>
<span id="t33" class="tx" style="left:21.38px;top:483.19px;font-size:12px;line-height:12px;color:#444;letter-spacing:0.030px;">Withdrawals:</span>
<span id="t34" class="tx" style="left:20.48px;top:515.29px;font-size:12px;line-height:12px;color:#444;letter-spacing:0.045px;">Updated</span>
<span id="t35" class="tx" style="left:21.20px;top:536.67px;font-size:12px;line-height:12px;color:#444;letter-spacing:0.053px;">Tracking</span>
<span id="t36" class="tx" style="left:209.34px;top:199.43px;font-size:12px;line-height:12px;color:#2f9a45;letter-spacing:-0.031px;font-weight:bold">+113.62%</span>
<span id="t37" class="tx" style="left:217.06px;top:225.15px;font-size:12px;line-height:12px;color:#48ad55;letter-spacing:-0.366px;">+41.86%</span>
<span id="t38" class="tx" style="left:230.36px;top:262.15px;font-size:12px;line-height:12px;color:#444;letter-spacing:-0.390px;">0.08%</span>
<span id="t39" class="tx" style="left:223.66px;top:288.71px;font-size:12px;line-height:12px;color:#444;letter-spacing:-0.301px;">19.86%</span>
<span id="t40" class="tx" style="left:223.66px;top:312.05px;font-size:12px;line-height:12px;color:#444;letter-spacing:-0.301px;">17.09%</span>
<span id="t41" class="tx" style="left:216.20px;top:344.67px;font-size:12px;line-height:12px;color:#444;letter-spacing:-0.310px;">USC0.62</span>
<span id="t42" class="tx" style="left:163.62px;top:365.63px;font-size:12px;line-height:12px;color:#5a5a5a;letter-spacing:-0.635px;">(100.00%)</span>
<span id="t43" class="tx" style="left:216.20px;top:365.67px;font-size:12px;line-height:12px;color:#444;letter-spacing:-0.310px;">USC0.62</span>
<span id="t44" class="tx" style="left:135.62px;top:386.67px;font-size:12px;line-height:12px;color:#a8a8a8;letter-spacing:-0.628px;">(Sep 08)</span>
<span id="t45" class="tx" style="left:179.84px;top:387.43px;font-size:12px;line-height:12px;color:#3a3a3a;letter-spacing:-0.113px;">USC110,391.07</span>
<span id="t46" class="tx" style="left:186.64px;top:408.43px;font-size:12px;line-height:12px;color:#5cb85c;letter-spacing:-0.236px;">USC63,883.74</span>
<span id="t47" class="tx" style="left:216.20px;top:429.19px;font-size:12px;line-height:12px;color:#444;letter-spacing:-0.345px;">USC0.00</span>
<span id="t48" class="tx" style="left:180.20px;top:462.67px;font-size:12px;line-height:12px;color:#444;letter-spacing:-0.239px;">USC152,615.88</span>
<span id="t49" class="tx" style="left:180.20px;top:483.15px;font-size:12px;line-height:12px;color:#444;letter-spacing:-0.219px;">USC216,499.00</span>
<span id="t50" class="tx" style="left:146.44px;top:516.05px;font-size:12px;line-height:12px;color:#444;letter-spacing:-0.067px;">Dec 29, 2023 at 08:15</span>
<span id="t51" class="tx" style="left:256.23px;top:537.19px;font-size:12px;line-height:12px;color:#444;letter-spacing:0.000px;">0</span>
<span id="t52" class="tx" style="left:308.99px;top:207.24px;font-size:9.5px;line-height:9.5px;color:#666;letter-spacing:-0.635px;-webkit-text-stroke:0.25px #666">150%</span>
<span id="t53" class="tx" style="left:308.90px;top:268.76px;font-size:9.5px;line-height:9.5px;color:#666;letter-spacing:-0.590px;-webkit-text-stroke:0.25px #666">100%</span>
<span id="t54" class="tx" style="left:313.69px;top:329.82px;font-size:9.5px;line-height:9.5px;color:#666;letter-spacing:-0.675px;-webkit-text-stroke:0.25px #666">50%</span>
<span id="t55" class="tx" style="left:318.75px;top:390.64px;font-size:9.5px;line-height:9.5px;color:#666;letter-spacing:-1.049px;-webkit-text-stroke:0.25px #666">0%</span>
<span id="t56" class="tx" style="left:310.72px;top:452.52px;font-size:9.5px;line-height:9.5px;color:#666;letter-spacing:-0.501px;-webkit-text-stroke:0.25px #666">-50%</span>
<span id="t57" class="tx" style="left:312.11px;top:474.28px;font-size:11px;line-height:11px;color:#666;letter-spacing:0.037px;-webkit-text-stroke:0.25px #666">May 26, '23</span>
<span id="t58" class="tx" style="left:459.32px;top:474.28px;font-size:11px;line-height:11px;color:#666;letter-spacing:0.072px;-webkit-text-stroke:0.25px #666">Jun 22, '23</span>
<span id="t59" class="tx" style="left:607.27px;top:474.28px;font-size:11px;line-height:11px;color:#666;letter-spacing:0.047px;-webkit-text-stroke:0.25px #666">Jul 14, '23</span>
<span id="t60" class="tx" style="left:750.46px;top:474.28px;font-size:11px;line-height:11px;color:#666;letter-spacing:0.009px;-webkit-text-stroke:0.25px #666">Aug 06, '23</span>
<span id="t61" class="tx" style="left:896.46px;top:474.28px;font-size:11px;line-height:11px;color:#666;letter-spacing:0.008px;-webkit-text-stroke:0.25px #666">Aug 25, '23</span>
<span id="t62" class="tx" style="left:1027.11px;top:474.28px;font-size:11px;line-height:11px;color:#666;letter-spacing:0.056px;-webkit-text-stroke:0.25px #666">Sep 15, '23</span>
<span id="t63" class="tx" style="left:540.82px;top:507.32px;font-size:11px;line-height:11px;color:#333;letter-spacing:0.018px;-webkit-text-stroke:0.15px #333">Equity Growth</span>
<span id="t64" class="tx" style="left:722.50px;top:506.84px;font-size:11px;line-height:11px;color:#333;letter-spacing:0.001px;-webkit-text-stroke:0.15px #333">Growth</span>
</body></html>
